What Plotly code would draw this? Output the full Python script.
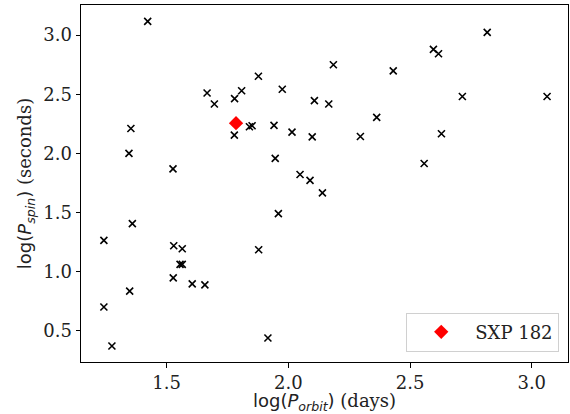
import plotly.graph_objects as go

# log10 orbital period (days) and spin period (s) of the comparison sample
log_porb = [
    1.422, 1.353, 1.345, 1.526, 1.666, 1.696, 1.779, 1.808, 1.877, 1.778,
    1.840, 1.851, 1.941, 1.975, 2.015, 1.946, 2.185, 2.107, 2.166, 2.098,
    2.048, 2.089, 2.140, 2.296, 2.363, 2.431, 2.596, 2.617, 2.558, 2.629,
    2.715, 2.817, 3.063, 1.242, 1.359, 1.529, 1.564, 1.555, 1.564, 1.527,
    1.605, 1.657, 1.242, 1.348, 1.275, 1.959, 1.878, 1.916,
]
log_pspin = [
    3.116, 2.211, 2.000, 1.870, 2.511, 2.418, 2.463, 2.530, 2.652, 2.155,
    2.225, 2.234, 2.237, 2.542, 2.180, 1.958, 2.749, 2.446, 2.418, 2.140,
    1.822, 1.772, 1.667, 2.143, 2.305, 2.698, 2.879, 2.842, 1.915, 2.166,
    2.481, 3.023, 2.481, 1.266, 1.407, 1.220, 1.195, 1.063, 1.063, 0.949,
    0.898, 0.890, 0.703, 0.837, 0.373, 1.492, 1.186, 0.441,
]

# SXP 182
sxp_porb = [1.785]
sxp_pspin = [2.256]

tick_vals_x = [1.5, 2.0, 2.5, 3.0]
tick_vals_y = [0.5, 1.0, 1.5, 2.0, 2.5, 3.0]

SERIF = "DejaVu Serif"
SANS = "DejaVu Sans"

fig = go.Figure()
fig.add_trace(go.Scatter(
    x=log_porb, y=log_pspin, mode="markers", showlegend=False,
    marker=dict(symbol="x-thin", size=7, line=dict(color="black", width=1.6)),
))
fig.add_trace(go.Scatter(
    x=sxp_porb, y=sxp_pspin, mode="markers", name="SXP 182",
    marker=dict(symbol="diamond", size=11, color="red", line=dict(width=0)),
))

axis_common = dict(
    showgrid=False, zeroline=False, showline=True, mirror=True,
    linecolor="black", linewidth=1, ticks="outside", ticklen=4.5,
    tickwidth=1, tickcolor="black",
    tickfont=dict(family=SERIF, size=18, color="#222"),
)

fig.update_layout(
    width=570, height=414,
    margin=dict(l=81, r=2, t=5, b=52),
    plot_bgcolor="white", paper_bgcolor="white",
    font=dict(family=SERIF, size=18, color="#222"),
    xaxis=dict(
        range=[1.148, 3.149], tickvals=tick_vals_x, tickformat=".1f",
        title=dict(
            text=f"<span style='font-family:{SANS}'>log(<i>P</i><sub><i>orbit</i></sub>)</span> (days)",
            standoff=5, font=dict(family=SERIF, size=18, color="#222"),
        ),
        **axis_common,
    ),
    yaxis=dict(
        range=[0.238, 3.254], tickvals=tick_vals_y, tickformat=".1f",
        title=dict(
            text=f"<span style='font-family:{SANS}'>log(<i>P</i><sub><i>spin</i></sub>)</span> (seconds)",
            standoff=6, font=dict(family=SERIF, size=18, color="#222"),
        ),
        **axis_common,
    ),
    legend=dict(
        x=0.982, y=0.029, xanchor="right", yanchor="bottom",
        bgcolor="white", bordercolor="#d0d0d0", borderwidth=1,
        font=dict(family=SERIF, size=18, color="#222"),
        itemwidth=58,
    ),
)

# drop the default page margin so the figure fills the window
fig.write_html(
    "out.html",
    config={"displayModeBar": False},
    post_script="document.body.style.margin='0';",
)
